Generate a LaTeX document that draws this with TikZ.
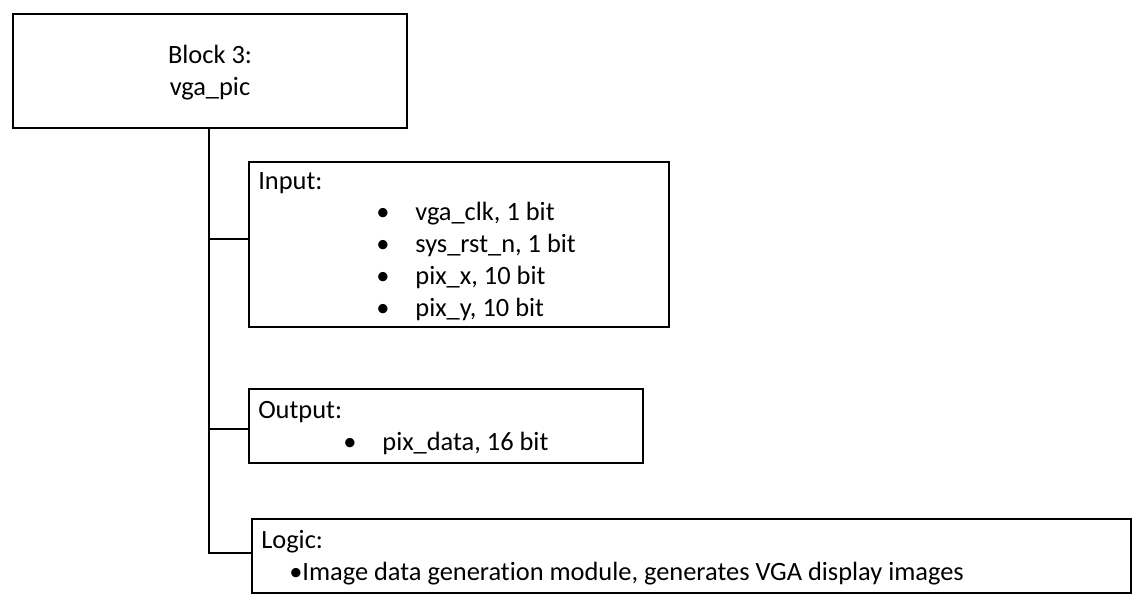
\documentclass[tikz,border=0pt]{standalone}
\usepackage{fontspec}
\setmainfont{Carlito}[Ligatures=NoCommon]
\usetikzlibrary{positioning}

\begin{document}
\begin{tikzpicture}[x=0.75pt, y=-0.75pt,
    blockbox/.style={rectangle, draw, line width=1.1pt, inner sep=0pt},
    txt/.style={inner sep=0pt, font=\fontsize{19.8}{24}\selectfont},
    wire/.style={draw, line width=1.1pt}
]
\useasboundingbox (0,0) rectangle (1141,605);

% top block
\node[blockbox, minimum width=394*0.75pt, minimum height=114*0.75pt] at (210,71) (top) {};
\node[txt, align=center] at (210,73) (toplabel) {Block 3:\\vga\_pic};

% input box
\node[blockbox, minimum width=420*0.75pt, minimum height=165*0.75pt] at (459,244.5) (input) {};
\node[txt, anchor=west] at (258,183) (intitle) {Input:};
\node[txt, anchor=west] at (376,214) (in1) {•\hspace{19.5pt}vga\_clk, 1 bit};
\node[txt, anchor=west] at (376,245) (in2) {•\hspace{19.5pt}sys\_rst\_n, 1 bit};
\node[txt, anchor=west] at (376,277) (in3) {•\hspace{19.5pt}pix\_x, 10 bit};
\node[txt, anchor=west] at (376,309) (in4) {•\hspace{19.5pt}pix\_y, 10 bit};

% output box
\node[blockbox, minimum width=394*0.75pt, minimum height=74*0.75pt] at (446,426) (output) {};
\node[txt, anchor=west] at (258,412) (outtitle) {Output:};
\node[txt, anchor=west] at (343,443) (out1) {•\hspace{19.5pt}pix\_data, 16 bit};

% logic box
\node[blockbox, minimum width=879*0.75pt, minimum height=74*0.75pt] at (691.5,556) (logic) {};
\node[txt, anchor=west] at (261,542) (logtitle) {Logic:};
\node[txt, anchor=west] at (289,574) (log1) {•Image data generation module, generates VGA display images};

% connectors
\coordinate (trunk) at (209,553);
\draw[wire] (top.south -| trunk) -- (trunk) -- (trunk -| logic.west);
\draw[wire] (trunk |- 0,239) -- (input.west |- 0,239);
\draw[wire] (trunk |- 0,429) -- (output.west |- 0,429);
\end{tikzpicture}
\end{document}
